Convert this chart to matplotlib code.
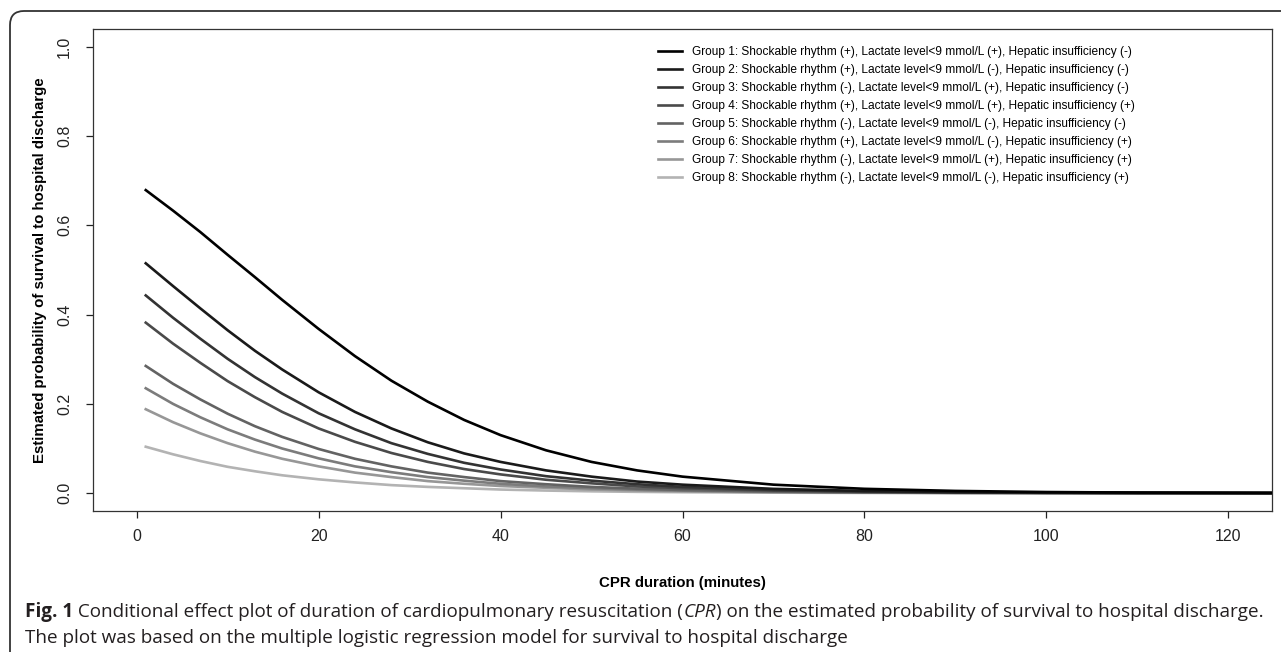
import matplotlib
matplotlib.use("Agg")
from matplotlib import pyplot as plt
from matplotlib.patches import FancyBboxPatch

minutes = [1, 4, 7, 10, 13, 16, 20, 24, 28, 32, 36, 40, 45, 50, 55, 60, 70, 80, 90, 100, 110, 125]

# estimated probability of survival to hospital discharge, one list per group
group1 = [0.679, 0.633, 0.585, 0.534, 0.484, 0.433, 0.368, 0.307, 0.252, 0.205, 0.164, 0.130, 0.096, 0.070, 0.051, 0.037, 0.019, 0.0097, 0.0050, 0.0025, 0.0013, 0.0005]
group2 = [0.515, 0.464, 0.414, 0.365, 0.319, 0.277, 0.226, 0.182, 0.145, 0.114, 0.089, 0.070, 0.051, 0.037, 0.026, 0.019, 0.0096, 0.0049, 0.0025, 0.0012, 0.0006, 0.0002]
group3 = [0.443, 0.393, 0.346, 0.301, 0.260, 0.223, 0.179, 0.143, 0.112, 0.088, 0.068, 0.053, 0.038, 0.028, 0.020, 0.014, 0.0072, 0.0037, 0.0018, 0.0009, 0.0005, 0.0002]
group4 = [0.382, 0.335, 0.292, 0.251, 0.215, 0.182, 0.145, 0.115, 0.090, 0.070, 0.054, 0.042, 0.030, 0.022, 0.015, 0.011, 0.0056, 0.0029, 0.0014, 0.0007, 0.0004, 0.0001]
group5 = [0.285, 0.245, 0.210, 0.178, 0.150, 0.126, 0.099, 0.077, 0.060, 0.046, 0.036, 0.027, 0.020, 0.014, 0.010, 0.0072, 0.0036, 0.0018, 0.0009, 0.0005, 0.0002, 0.0001]
group6 = [0.235, 0.200, 0.170, 0.143, 0.120, 0.100, 0.078, 0.060, 0.047, 0.036, 0.028, 0.021, 0.015, 0.011, 0.0078, 0.0056, 0.0028, 0.0014, 0.0007, 0.0004, 0.0002, 0.0001]
group7 = [0.188, 0.159, 0.134, 0.112, 0.093, 0.077, 0.060, 0.046, 0.036, 0.027, 0.021, 0.016, 0.012, 0.0082, 0.0059, 0.0042, 0.0021, 0.0011, 0.0005, 0.0003, 0.0001, 0.0000]
group8 = [0.104, 0.087, 0.072, 0.059, 0.049, 0.040, 0.031, 0.024, 0.018, 0.014, 0.011, 0.0081, 0.0058, 0.0041, 0.0029, 0.0021, 0.0011, 0.0005, 0.0003, 0.0001, 0.0001, 0.0000]

labels = [
    "Group 1: Shockable rhythm (+), Lactate level<9 mmol/L (+), Hepatic insufficiency (-)",
    "Group 2: Shockable rhythm (+), Lactate level<9 mmol/L (-), Hepatic insufficiency (-)",
    "Group 3: Shockable rhythm (-), Lactate level<9 mmol/L (+), Hepatic insufficiency (-)",
    "Group 4: Shockable rhythm (+), Lactate level<9 mmol/L (+), Hepatic insufficiency (+)",
    "Group 5: Shockable rhythm (-), Lactate level<9 mmol/L (-), Hepatic insufficiency (-)",
    "Group 6: Shockable rhythm (+), Lactate level<9 mmol/L (-), Hepatic insufficiency (+)",
    "Group 7: Shockable rhythm (-), Lactate level<9 mmol/L (+), Hepatic insufficiency (+)",
    "Group 8: Shockable rhythm (-), Lactate level<9 mmol/L (-), Hepatic insufficiency (+)",
]
greys = ["#000000", "#1a1a1a", "#333333", "#4a4a4a", "#636363", "#7c7c7c", "#979797", "#b3b3b3"]

plt.rcParams['font.family'] = ['Liberation Sans', 'DejaVu Sans']

W, H = 1281, 652
fig = plt.figure(figsize=(W / 100, H / 100), dpi=100)
ax = fig.add_axes([93 / W, 1 - 511 / H, (1272 - 93) / W, (511 - 29) / H])

series = [group1, group2, group3, group4, group5, group6, group7, group8]
for i, (vals, col, lab) in enumerate(zip(series, greys, labels)):
    # darker groups sit on top where the curves merge near zero
    ax.plot(minutes, vals, color=col, lw=1.9, label=lab, zorder=10 - i)

ax.set_xlim(-4.8, 124.8)
ax.set_ylim(-0.04, 1.04)
ax.set_xticks([0, 20, 40, 60, 80, 100, 120])
ax.set_yticks([0.0, 0.2, 0.4, 0.6, 0.8, 1.0])
ax.set_yticklabels(["0.0", "0.2", "0.4", "0.6", "0.8", "1.0"], rotation=90, va='center')
ax.tick_params(axis='both', direction='out', length=5, width=0.9, labelsize=11.5, colors='#222222')
ax.tick_params(axis='x', pad=8)
ax.tick_params(axis='y', pad=10)
for s in ax.spines.values():
    s.set_linewidth(0.9)
    s.set_color('#333333')

fig.text(682 / W, 1 - 583 / H, "CPR duration (minutes)", fontsize=10.8, fontweight='bold',
         ha='center', va='center')
fig.text(40 / W, 1 - 270 / H, "Estimated probability of survival to hospital discharge",
         fontsize=10.8, fontweight='bold', rotation=90, ha='center', va='center')

ax.legend(loc='upper left', bbox_to_anchor=(658 / W, 1 - 46 / H), bbox_transform=fig.transFigure,
          frameon=False, fontsize=8.6, borderpad=0, borderaxespad=0, handlelength=2.0,
          handletextpad=0.85, labelspacing=0.5)

# caption
cap = dict(fontsize=13.6, color='#231f20', family=['Open Sans', 'DejaVu Sans'])
t1 = fig.text(25 / W, 1 - 617 / H, "Fig. 1", fontweight='bold', va='baseline', **cap)
t2 = fig.text(0, 0, " Conditional effect plot of duration of cardiopulmonary resuscitation (", va='baseline', **cap)
t3 = fig.text(0, 0, "CPR", style='italic', va='baseline', **cap)
t4 = fig.text(0, 0, ") on the estimated probability of survival to hospital discharge.", va='baseline', **cap)
fig.text(25 / W, 1 - 643 / H, "The plot was based on the multiple logistic regression model for survival to hospital discharge",
         va='baseline', **cap)

fig.canvas.draw()
r = fig.canvas.get_renderer()
prev = t1
for t in (t2, t3, t4):
    bb = prev.get_window_extent(r)
    t.set_position((bb.x1 / W, 1 - 617 / H))
    fig.canvas.draw()
    prev = t

frame = FancyBboxPatch((10, -30), 1320, H - 11 + 30, boxstyle="round,pad=0,rounding_size=14",
                       transform=None, fill=False, lw=1.3, edgecolor='#333333', clip_on=False)
fig.add_artist(frame)

fig.savefig("out.png", dpi=100)
